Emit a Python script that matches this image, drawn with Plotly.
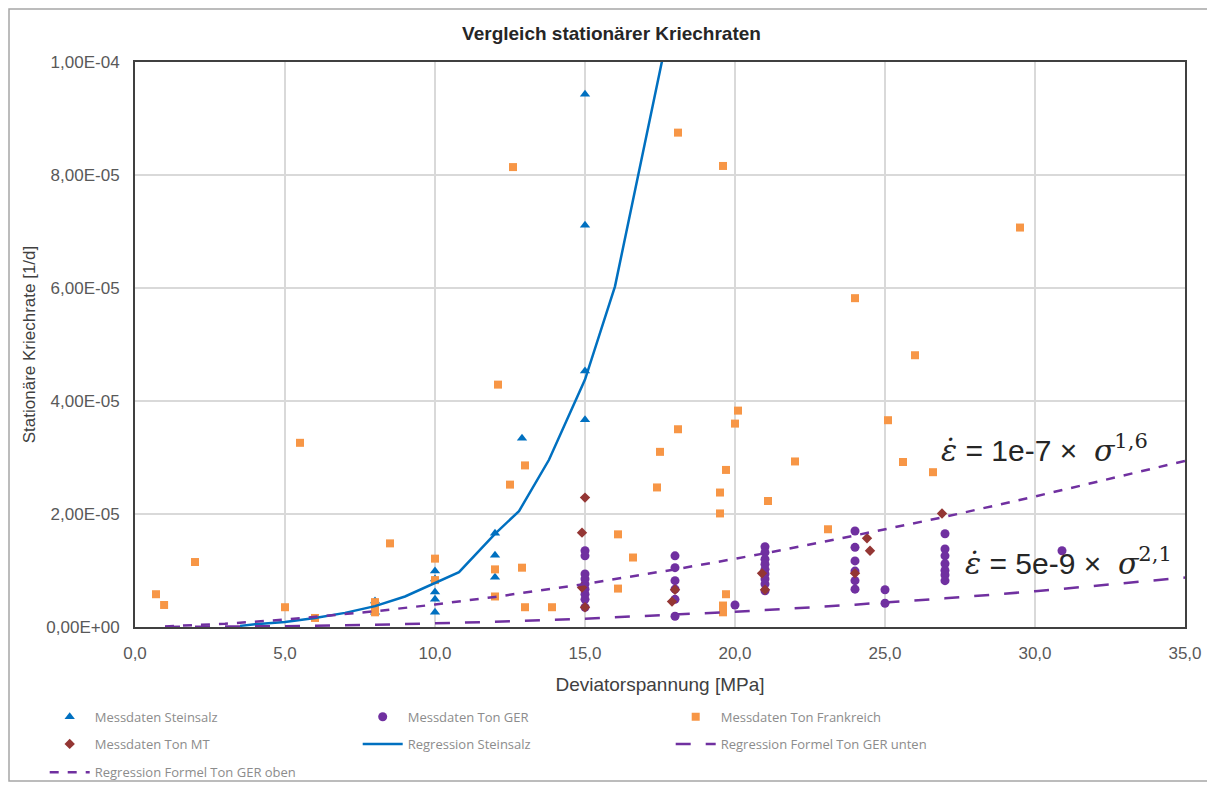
import plotly.graph_objects as go

# ---------------- data (rates in 1e-6 1/d) ----------------
UNIT = 1e-6

steinsalz_x = [15, 15, 15, 15, 12.9, 12, 12, 12, 10, 10, 10, 10, 10, 8, 8]
steinsalz_y = [94.3, 71.1, 45.3, 36.7, 33.4, 16.6, 12.7, 8.8, 9.9, 8.5, 6.2, 4.9, 2.6, 4.6, 2.6]

ger_x = [15, 15, 15, 15, 15, 15, 15, 15, 15,
         18, 18, 18, 18, 18, 18,
         20,
         21, 21, 21, 21, 21, 21, 21, 21, 21,
         24, 24, 24, 24, 24, 24,
         25, 25,
         27, 27, 27, 27, 27, 27, 27,
         30.9]
ger_y = [13.5, 12.6, 9.4, 8.5, 7.6, 6.7, 5.8, 4.9, 3.5,
         12.6, 10.5, 8.2, 6.7, 4.9, 1.9,
         3.9,
         14.2, 13.2, 12.0, 11.1, 10.2, 9.4, 8.5, 7.6, 6.4,
         17.0, 14.1, 11.7, 9.9, 8.2, 6.7,
         6.6, 4.2,
         16.5, 13.8, 12.6, 11.2, 10.0, 9.2, 8.2,
         13.5]

fr_x = [0.7, 0.97, 2.0, 5.0, 5.5, 6.0, 8, 8, 8, 8.5, 10, 10, 12.1, 12.6, 12.5, 13.0,
        12, 12.9, 12, 13.0, 13.9, 16.1, 16.6, 16.1, 17.4, 17.5, 18.1, 18.1, 19.6,
        19.5, 19.5, 19.7, 20.0, 20.1, 19.7, 19.6, 19.6, 21.1, 22.0, 23.1, 24.0,
        25.1, 25.6, 26.0, 26.6, 29.5]
fr_y = [5.8, 3.9, 11.5, 3.5, 32.6, 1.6, 4.4, 3.5, 2.6, 14.8, 12.1, 8.3, 42.9, 81.4, 25.2, 28.6,
        10.2, 10.5, 5.4, 3.5, 3.5, 16.4, 12.3, 6.8, 24.7, 31.0, 35.0, 87.5, 81.6,
        23.8, 20.1, 27.8, 36.0, 38.3, 5.8, 3.8, 2.6, 22.3, 29.3, 17.3, 58.2,
        36.6, 29.2, 48.1, 27.4, 70.7]

mt_x = [15, 14.9, 14.9, 15, 18, 17.9, 20.9, 21, 24, 24.4, 24.5, 26.9]
mt_y = [22.9, 16.7, 7.0, 3.5, 6.6, 4.5, 9.5, 6.6, 9.5, 15.7, 13.5, 20.1]

reg_st_x = [3.5, 4, 5, 6, 7, 8, 9, 10, 10.8, 12, 12.8, 13.8, 15, 16, 16.8, 17.6]
reg_st_y = [0.2, 0.5, 0.9, 1.6, 2.5, 3.7, 5.4, 7.8, 9.7, 16.5, 20.5, 29.6, 43.8, 60.3, 80.3, 101.0]

reg_ger_x = [1, 3, 5, 8, 10, 12, 15, 18, 20, 21, 24, 27, 30, 35]
reg_unten_y = [0.005, 0.05, 0.15, 0.39, 0.63, 0.92, 1.47, 2.16, 2.70, 2.99, 3.96, 5.07, 6.32, 8.75]
reg_oben_y = [0.10, 0.58, 1.31, 2.79, 3.98, 5.33, 7.62, 10.2, 12.07, 13.05, 16.2, 19.5, 23.1, 29.4]

x_ticks = [0, 5, 10, 15, 20, 25, 30, 35]
x_ticktext = ["0,0", "5,0", "10,0", "15,0", "20,0", "25,0", "30,0", "35,0"]
y_ticks = [0, 2e-5, 4e-5, 6e-5, 8e-5, 1e-4]
y_ticktext = ["0,00E+00", "2,00E-05", "4,00E-05", "6,00E-05", "8,00E-05", "1,00E-04"]

BLUE = "#0070C0"
PURPLE = "#7030A0"
ORANGE = "#F79646"
DARKRED = "#943634"


def sc(vals):
    return [v * UNIT for v in vals]


fig = go.Figure()

fig.add_trace(go.Scatter(x=steinsalz_x, y=sc(steinsalz_y), mode="markers", name="Messdaten Steinsalz",
                         marker=dict(symbol="triangle-up", size=9, color=BLUE), legend="legend"))
fig.add_trace(go.Scatter(x=ger_x, y=sc(ger_y), mode="markers", name="Messdaten Ton GER",
                         marker=dict(symbol="circle", size=9, color=PURPLE), legend="legend"))
fig.add_trace(go.Scatter(x=fr_x, y=sc(fr_y), mode="markers", name="Messdaten Ton Frankreich",
                         marker=dict(symbol="square", size=8, color=ORANGE), legend="legend"))
fig.add_trace(go.Scatter(x=mt_x, y=sc(mt_y), mode="markers", name="Messdaten Ton MT",
                         marker=dict(symbol="diamond", size=8, color=DARKRED), legend="legend2"))
fig.add_trace(go.Scatter(x=reg_st_x, y=sc(reg_st_y), mode="lines", name="Regression Steinsalz",
                         line=dict(color=BLUE, width=2.5), legend="legend2"))
fig.add_trace(go.Scatter(x=reg_ger_x, y=sc(reg_unten_y), mode="lines", name="Regression Formel Ton GER unten",
                         line=dict(color=PURPLE, width=2.5, dash="longdash"), legend="legend2"))
fig.add_trace(go.Scatter(x=reg_ger_x, y=sc(reg_oben_y), mode="lines", name="Regression Formel Ton GER oben",
                         line=dict(color=PURPLE, width=2.5, dash="dash"), legend="legend3"))

leg_common = dict(orientation="h", xanchor="left", yanchor="middle", x=-0.086,
                  entrywidth=258, entrywidthmode="pixels", bgcolor="rgba(0,0,0,0)",
                  font=dict(family="Open Sans", size=13, color="#8C8C8C"), itemwidth=40)

# page body has an 8px margin: figure is sized/offset so the plot area lands at 135..1185 x 62..627
fig.update_layout(
    width=1207, height=777,
    margin=dict(l=127, r=30, t=54, b=158, autoexpand=False),
    paper_bgcolor="white", plot_bgcolor="white",
    title=dict(text="<b>Vergleich stationärer Kriechraten</b>", x=0.5, xanchor="center",
               y=0.968, yanchor="middle", font=dict(family="Liberation Sans", size=19, color="#262626")),
    xaxis=dict(range=[0, 35], tickvals=x_ticks, ticktext=x_ticktext, showgrid=True,
               gridcolor="#D9D9D9", gridwidth=1.5, zeroline=False, showline=True, mirror=True,
               linecolor="#404040", linewidth=2, ticks="", ticklabelstandoff=10,
               tickfont=dict(family="Liberation Sans", size=17, color="#595959"),
               title=dict(text="Deviatorspannung [MPa]", standoff=15,
                          font=dict(family="Liberation Sans", size=19, color="#404040"))),
    yaxis=dict(range=[0, 1e-4], tickvals=y_ticks, ticktext=y_ticktext, showgrid=True,
               gridcolor="#D9D9D9", gridwidth=1.5, zeroline=False, showline=True, mirror=True,
               linecolor="#404040", linewidth=2, ticks="", ticklabelstandoff=10,
               tickfont=dict(family="Liberation Sans", size=17, color="#595959"),
               title=dict(text="Stationäre Kriechrate [1/d]", standoff=6,
                          font=dict(family="Liberation Sans", size=17, color="#404040"))),
    legend=dict(leg_common, y=-0.159),
    legend2=dict(leg_common, y=-0.207),
    legend3=dict(leg_common, y=-0.257),
    showlegend=True,
)

serif_i = "font-family:'DejaVu Serif';font-style:italic"
serif_n = "font-family:'DejaVu Serif';font-style:normal"
eq_oben = (f"<span style=\"{serif_i}\">ε\u0307</span> = 1e-7 ×\u00a0 "
           f"<span style=\"{serif_i}\">σ</span><sup><span style=\"{serif_n}\">1,6</span></sup>")
eq_unten = (f"<span style=\"{serif_i}\">ε\u0307</span> = 5e-9 ×\u00a0 "
            f"<span style=\"{serif_i}\">σ</span><sup><span style=\"{serif_n}\">2,1</span></sup>")

fig.add_annotation(x=26.8, y=31.6e-6, xref="x", yref="y", text=eq_oben, showarrow=False,
                   xanchor="left", yanchor="middle",
                   font=dict(family="Liberation Sans", size=30, color="#262626"))
fig.add_annotation(x=27.6, y=11.6e-6, xref="x", yref="y", text=eq_unten, showarrow=False,
                   xanchor="left", yanchor="middle",
                   font=dict(family="Liberation Sans", size=30, color="#262626"))

# outer chart frame
fig.add_shape(type="rect", xref="paper", yref="paper", x0=-0.1200, x1=1.0238, y0=-0.2726, y1=1.0938,
              line=dict(color="#A6A6A6", width=1.5), layer="below")

fig.write_html("out.html")
